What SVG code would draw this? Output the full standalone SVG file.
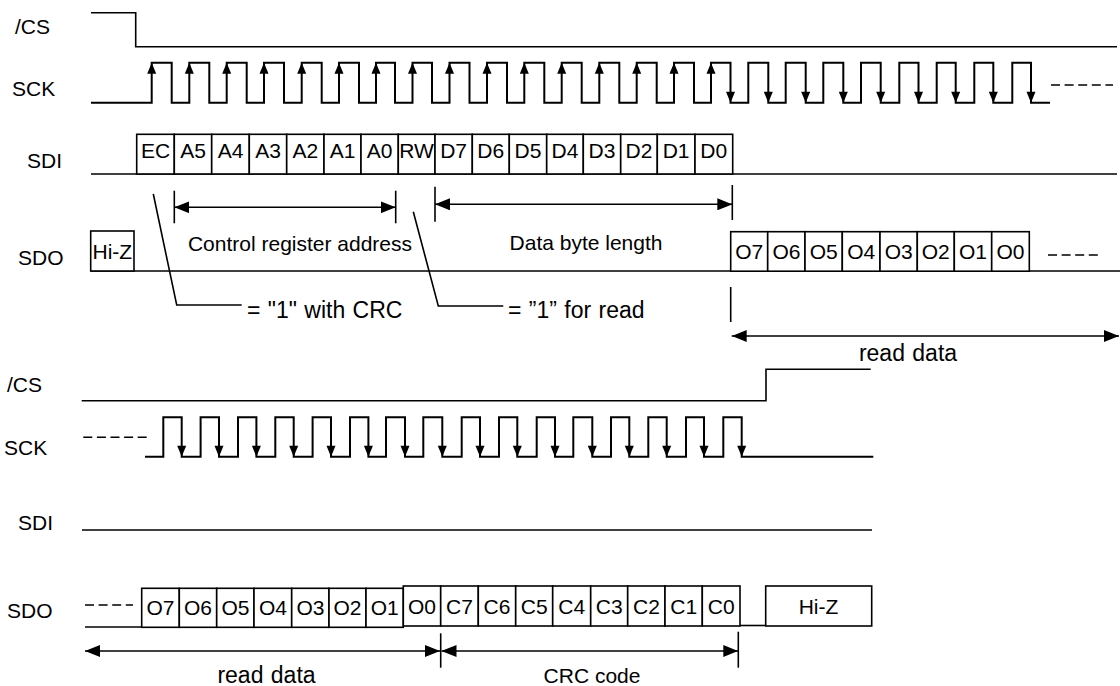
<svg xmlns="http://www.w3.org/2000/svg" width="1120" height="686" viewBox="0 0 1120 686">
<defs>
<style>
text{font-family:"Liberation Sans",Arial,sans-serif;font-size:21px;fill:#000}
.c{text-anchor:middle}
.n{font-size:23px;word-spacing:1px}
.w{fill:none;stroke:#000;stroke-width:1.6}
.k{fill:none;stroke:#000;stroke-width:2}
.b{fill:#fff;stroke:#000;stroke-width:1.6}
.d{fill:none;stroke:#000;stroke-width:1.6;stroke-dasharray:9 4.6}
.a{fill:#000}
</style>
<path id="up" d="M0,0 L-4.5,11 L4.5,11 Z"/>
<path id="dn" d="M0,0 L-4.5,-11 L4.5,-11 Z"/>
<marker id="ah" viewBox="0 0 15 12" refX="15" refY="6" markerWidth="15" markerHeight="12" markerUnits="userSpaceOnUse" orient="auto-start-reverse"><path d="M0,0 L15,6 L0,12 Z" fill="#000"/></marker>
</defs>
<rect width="1120" height="686" fill="#fff"/>

<g id="labels">
<text x="15" y="34">/CS</text>
<text x="12" y="96">SCK</text>
<text x="27" y="168">SDI</text>
<text x="18" y="265">SDO</text>
<text x="7" y="392">/CS</text>
<text x="4" y="455">SCK</text>
<text x="18" y="530">SDI</text>
<text x="7" y="618">SDO</text>
</g>

<g id="top-cs">
<path class="w" d="M91,12.7 H135.7 V46.7 H1117"/>
</g>

<g id="top-sck">
<path class="k" d="M91,102.7 H151.7 V62.7 H171.7 V102.7 H189.3 V62.7 H209.3 V102.7 H226.7 V62.7 H246.7 V102.7 H264 V62.7 H284 V102.7 H301.7 V62.7 H321.7 V102.7 H339 V62.7 H359 V102.7 H376 V62.7 H395 V102.7 H412.5 V62.7 H432 V102.7 H449.5 V62.7 H469.5 V102.7 H487 V62.7 H507 V102.7 H524.3 V62.7 H544.3 V102.7 H561.7 V62.7 H581.7 V102.7 H599.3 V62.7 H619.3 V102.7 H636.7 V62.7 H656.7 V102.7 H674 V62.7 H694 V102.7 H711 V62.7 H730.5 V102.7 H748.3 V62.7 H768.3 V102.7 H785.7 V62.7 H805.7 V102.7 H823.3 V62.7 H843.3 V102.7 H861 V62.7 H880.7 V102.7 H899.3 V62.7 H918.5 V102.7 H936.7 V62.7 H955.7 V102.7 H974.3 V62.7 H993.3 V102.7 H1012.3 V62.7 H1031 V102.7 H1050"/>
<g class="a">
<use href="#up" x="151.7" y="62.7"/><use href="#up" x="189.3" y="62.7"/><use href="#up" x="226.7" y="62.7"/><use href="#up" x="264" y="62.7"/><use href="#up" x="301.7" y="62.7"/><use href="#up" x="339" y="62.7"/><use href="#up" x="376" y="62.7"/><use href="#up" x="412.5" y="62.7"/><use href="#up" x="449.5" y="62.7"/><use href="#up" x="487" y="62.7"/><use href="#up" x="524.3" y="62.7"/><use href="#up" x="561.7" y="62.7"/><use href="#up" x="599.3" y="62.7"/><use href="#up" x="636.7" y="62.7"/><use href="#up" x="674" y="62.7"/><use href="#up" x="711" y="62.7"/>
<use href="#dn" x="730.5" y="102.7"/><use href="#dn" x="768.3" y="102.7"/><use href="#dn" x="805.7" y="102.7"/><use href="#dn" x="843.3" y="102.7"/><use href="#dn" x="880.7" y="102.7"/><use href="#dn" x="918.5" y="102.7"/><use href="#dn" x="955.7" y="102.7"/><use href="#dn" x="993.3" y="102.7"/><use href="#dn" x="1031" y="102.7"/>
</g>
<line class="d" x1="1051" y1="85" x2="1113" y2="85"/>
</g>

<g id="top-sdi">
<line class="w" x1="91" y1="174" x2="1117" y2="174"/>
<g class="b">
<rect x="136.7" y="134.3" width="37.6" height="39.7"/><rect x="174.3" y="134.3" width="37.4" height="39.7"/><rect x="211.7" y="134.3" width="37.6" height="39.7"/><rect x="249.3" y="134.3" width="37.4" height="39.7"/><rect x="286.7" y="134.3" width="37.3" height="39.7"/><rect x="324" y="134.3" width="37" height="39.7"/><rect x="361" y="134.3" width="37.3" height="39.7"/><rect x="398.3" y="134.3" width="36.7" height="39.7"/><rect x="435" y="134.3" width="37.3" height="39.7"/><rect x="472.3" y="134.3" width="37" height="39.7"/><rect x="509.3" y="134.3" width="37.4" height="39.7"/><rect x="546.7" y="134.3" width="36.6" height="39.7"/><rect x="583.3" y="134.3" width="37.4" height="39.7"/><rect x="620.7" y="134.3" width="36.6" height="39.7"/><rect x="657.3" y="134.3" width="37.7" height="39.7"/><rect x="695" y="134.3" width="37.7" height="39.7"/>
</g>
<g class="c">
<text x="155.5" y="158">EC</text><text x="193" y="158">A5</text><text x="230.5" y="158">A4</text><text x="268" y="158">A3</text><text x="305.3" y="158">A2</text><text x="342.5" y="158">A1</text><text x="379.6" y="158">A0</text><text x="416.6" y="158">RW</text><text x="453.6" y="158">D7</text><text x="490.8" y="158">D6</text><text x="528" y="158">D5</text><text x="565" y="158">D4</text><text x="602" y="158">D3</text><text x="639" y="158">D2</text><text x="676.1" y="158">D1</text><text x="713.8" y="158">D0</text>
</g>
</g>

<g id="top-sdo">
<line class="w" x1="90.7" y1="271" x2="1120" y2="271"/>
<rect class="b" x="90.7" y="231" width="43.3" height="40"/>
<text class="c" x="112.3" y="258.5">Hi-Z</text>
<g class="b">
<rect x="730.7" y="231.7" width="37" height="39.5"/><rect x="767.7" y="231.7" width="37.3" height="39.5"/><rect x="805" y="231.7" width="37.3" height="39.5"/><rect x="842.3" y="231.7" width="37.7" height="39.5"/><rect x="880" y="231.7" width="37.3" height="39.5"/><rect x="917.3" y="231.7" width="37" height="39.5"/><rect x="954.3" y="231.7" width="37.4" height="39.5"/><rect x="991.7" y="231.7" width="37.6" height="39.5"/>
</g>
<g class="c">
<text x="749.2" y="258.5">O7</text><text x="786.4" y="258.5">O6</text><text x="823.7" y="258.5">O5</text><text x="861.2" y="258.5">O4</text><text x="898.7" y="258.5">O3</text><text x="935.8" y="258.5">O2</text><text x="973" y="258.5">O1</text><text x="1010.5" y="258.5">O0</text>
</g>
<line class="d" x1="1048" y1="255" x2="1098" y2="255"/>
</g>

<g id="annotations-top">
<path class="w" d="M153.3,194 L176.7,305 H241.7"/>
<text class="n" x="247" y="318">= "1" with CRC</text>
<path class="w" d="M413.3,211.7 L438.3,306 H503.3"/>
<text class="n" x="508" y="318">= ”1” for read</text>
<line class="w" x1="174.3" y1="190.7" x2="174.3" y2="223.3"/>
<line class="w" x1="395.7" y1="190.7" x2="395.7" y2="223.3"/>
<line class="w" x1="174.3" y1="207.3" x2="395.7" y2="207.3" marker-start="url(#ah)" marker-end="url(#ah)"/>
<text class="c" x="300" y="251">Control register address</text>
<line class="w" x1="435" y1="186.7" x2="435" y2="221.7"/>
<line class="w" x1="732.3" y1="185" x2="732.3" y2="220"/>
<line class="w" x1="435" y1="204.3" x2="732.3" y2="204.3" marker-start="url(#ah)" marker-end="url(#ah)"/>
<text class="c" x="586" y="250">Data byte length</text>
<line class="w" x1="730.7" y1="287" x2="730.7" y2="322"/>
<line class="w" x1="731.7" y1="336" x2="1119" y2="336" marker-start="url(#ah)" marker-end="url(#ah)"/>
<text class="c n" x="908" y="361">read data</text>
</g>

<g id="bottom-cs">
<path class="w" d="M81.7,400.7 H766 V369.3 H870.7"/>
</g>

<g id="bottom-sck">
<line class="d" x1="83.3" y1="437.3" x2="146.7" y2="437.3"/>
<path class="k" d="M145,456.7 H163.3 V417.3 H181.7 V456.7 H200.6 V417.3 H219 V456.7 H238 V417.3 H256.4 V456.7 H275.3 V417.3 H293.7 V456.7 H312.6 V417.3 H331 V456.7 H350 V417.3 H368.4 V456.7 H386 V417.3 H405 V456.7 H423.3 V417.3 H442.3 V456.7 H461.7 V417.3 H480 V456.7 H499 V417.3 H517.3 V456.7 H536.7 V417.3 H555 V456.7 H573.3 V417.3 H592.3 V456.7 H611 V417.3 H629.3 V456.7 H648.3 V417.3 H666.7 V456.7 H686 V417.3 H704 V456.7 H723.3 V417.3 H741.7 V456.7 H873.3"/>
<g class="a">
<use href="#dn" x="181.7" y="456.7"/><use href="#dn" x="219" y="456.7"/><use href="#dn" x="256.4" y="456.7"/><use href="#dn" x="293.7" y="456.7"/><use href="#dn" x="331" y="456.7"/><use href="#dn" x="368.4" y="456.7"/><use href="#dn" x="405" y="456.7"/><use href="#dn" x="442.3" y="456.7"/><use href="#dn" x="480" y="456.7"/><use href="#dn" x="517.3" y="456.7"/><use href="#dn" x="555" y="456.7"/><use href="#dn" x="592.3" y="456.7"/><use href="#dn" x="629.3" y="456.7"/><use href="#dn" x="666.7" y="456.7"/><use href="#dn" x="704" y="456.7"/><use href="#dn" x="741.7" y="456.7"/>
</g>
</g>

<g id="bottom-sdi">
<line class="w" x1="82" y1="530" x2="872" y2="530"/>
</g>

<g id="bottom-sdo">
<line class="d" x1="85" y1="605" x2="133" y2="605"/>
<line class="w" x1="85" y1="627" x2="141.7" y2="627"/>
<line class="w" x1="740" y1="625.5" x2="765.7" y2="625.5"/>
<g class="b">
<rect x="141.7" y="588.3" width="37.6" height="39"/><rect x="179.3" y="588.3" width="37.4" height="39"/><rect x="216.7" y="588.3" width="37.3" height="39"/><rect x="254" y="588.3" width="37.7" height="39"/><rect x="291.7" y="588.3" width="37.3" height="39"/><rect x="329" y="588.3" width="37" height="39"/><rect x="366" y="588.3" width="37.3" height="39"/>
<rect x="403.3" y="586" width="37.4" height="40"/><rect x="440.7" y="586" width="37.6" height="40"/><rect x="478.3" y="586" width="37.4" height="40"/><rect x="515.7" y="586" width="37" height="40"/><rect x="552.7" y="586" width="38" height="40"/><rect x="590.7" y="586" width="37" height="40"/><rect x="627.7" y="586" width="37.3" height="40"/><rect x="665" y="586" width="37.3" height="40"/><rect x="702.3" y="586" width="37.7" height="40"/>
<rect x="765.7" y="586" width="106" height="40"/>
</g>
<g class="c">
<text x="160.5" y="615">O7</text><text x="198" y="615">O6</text><text x="235.4" y="615">O5</text><text x="272.9" y="615">O4</text><text x="310.4" y="615">O3</text><text x="347.5" y="615">O2</text><text x="384.7" y="615">O1</text>
<text x="422" y="613.5">O0</text><text x="459.5" y="613.5">C7</text><text x="497" y="613.5">C6</text><text x="534.2" y="613.5">C5</text><text x="571.7" y="613.5">C4</text><text x="609.2" y="613.5">C3</text><text x="646.4" y="613.5">C2</text><text x="683.7" y="613.5">C1</text><text x="721.2" y="613.5">C0</text>
<text x="818.5" y="613.5">Hi-Z</text>
</g>
</g>

<g id="annotations-bottom">
<line class="w" x1="440.7" y1="633.3" x2="440.7" y2="667.7"/>
<line class="w" x1="738.3" y1="631.7" x2="738.3" y2="667.7"/>
<line class="w" x1="85" y1="651" x2="440" y2="651" marker-start="url(#ah)" marker-end="url(#ah)"/>
<line class="w" x1="441.5" y1="651" x2="738.3" y2="651" marker-start="url(#ah)" marker-end="url(#ah)"/>
<text class="c n" x="266.5" y="683">read data</text>
<text class="c" x="592" y="683">CRC code</text>
</g>
</svg>
